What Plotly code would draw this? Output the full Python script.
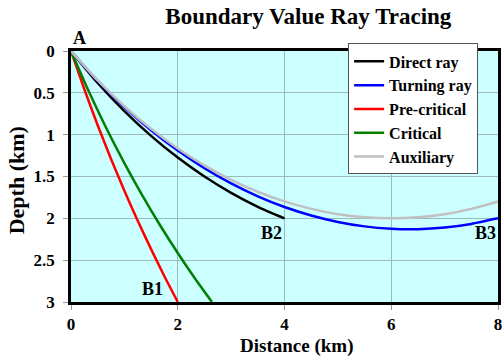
import plotly.graph_objects as go

# Ray paths: distance (km) vs depth (km)
direct_x = [0, 0.5, 1.0, 1.5, 2.0, 2.5, 3.0, 3.5, 4.0]
direct_z = [0, 0.382, 0.718, 1.014, 1.274, 1.500, 1.695, 1.862, 2.000]

turning_x = [0, 0.25, 0.5, 1.0, 1.5, 2.0, 2.5, 3.0, 3.5, 4.0, 4.5, 5.0, 5.5, 6.0, 6.5, 7.0, 7.5, 8.0]
turning_z = [0, 0.183, 0.356, 0.670, 0.947, 1.190, 1.401, 1.583, 1.737, 1.865, 1.966,
             2.043, 2.096, 2.124, 2.129, 2.110, 2.067, 2.000]

precrit_x = [0, 0.25, 0.5, 0.75, 1.0, 1.25, 1.5, 1.75, 2.0]
precrit_z = [0, 0.459, 0.888, 1.290, 1.670, 2.028, 2.368, 2.692, 3.000]

crit_x = [0, 0.33, 0.66, 1.0, 1.33, 1.66, 2.0, 2.33, 2.64]
crit_z = [0, 0.479, 0.920, 1.340, 1.720, 2.074, 2.415, 2.726, 3.000]

aux_x = [0, 0.5, 1.0, 1.5, 2.0, 2.5, 3.0, 3.5, 4.0, 4.5, 5.0, 5.5, 6.0, 6.5, 7.0, 7.5, 8.0]
aux_z = [0, 0.352, 0.660, 0.930, 1.165, 1.367, 1.539, 1.682, 1.798, 1.887, 1.950,
         1.987, 2.000, 1.987, 1.950, 1.887, 1.798]

series_names = ["Direct ray", "Turning ray", "Pre-critical", "Critical", "Auxiliary"]
series_colors = ["#000000", "#0000FF", "#FF0000", "#008000", "#C0C0C0"]
series_data = [(direct_x, direct_z), (turning_x, turning_z), (precrit_x, precrit_z),
               (crit_x, crit_z), (aux_x, aux_z)]

x_ticks = [0, 2, 4, 6, 8]
y_ticks = [0, 0.5, 1, 1.5, 2, 2.5, 3]

point_labels = ["A", "B1", "B2", "B3"]
point_label_pos = [(0, 0, 8, 13), (1.52, 2.85, 0, 0), (3.76, 2.18, 0, 0), (7.76, 2.18, 0, 0)]

FONT = "Liberation Serif"

fig = go.Figure()
for name, color, (xs, zs) in zip(series_names, series_colors, series_data):
    fig.add_trace(go.Scatter(
        x=xs, y=zs, name=name, mode="lines",
        line=dict(color=color, width=2.5, shape="spline", smoothing=0.6),
    ))

annotations = []
for text, (ax, ay, xs, ys) in zip(point_labels, point_label_pos):
    annotations.append(dict(
        x=ax, y=ay, xref="x", yref="y", text=f"<b>{text}</b>", showarrow=False,
        xanchor="center", yanchor="middle", xshift=xs, yshift=ys,
        font=dict(family=FONT, size=18, color="black"),
    ))

annotations.append(dict(
    x=0.528, y=0, xref="paper", yref="paper", yshift=-44,
    text="<b>Distance (km)</b>", showarrow=False, xanchor="center", yanchor="middle",
    font=dict(family=FONT, size=19, color="black"),
))
annotations.append(dict(
    x=-0.127, y=0.484, xref="paper", yref="paper", textangle=-90,
    text="<b>Depth (km)</b>", showarrow=False, xanchor="center", yanchor="middle",
    font=dict(family=FONT, size=22, color="black"),
))

axis_common = dict(
    showline=True, linecolor="black", linewidth=2.5, mirror=True,
    showgrid=True, gridcolor="#99bbbb", gridwidth=1, zeroline=False,
    ticks="outside", ticklen=5, tickcolor="#999999",
    tickfont=dict(family=FONT, size=17, color="black", weight="bold"),
)

fig.update_layout(
    width=503, height=361,
    margin=dict(l=71, r=2, t=51, b=59),
    paper_bgcolor="white", plot_bgcolor="#CCFFFF",
    title=dict(
        text="<b>Boundary Value Ray Tracing</b>", x=0.613, y=0.955,
        xref="container", yref="container", xanchor="center", yanchor="middle",
        font=dict(family=FONT, size=23, color="black"),
    ),
    xaxis=dict(range=[0, 8], tickvals=x_ticks, **axis_common),
    yaxis=dict(range=[3, 0], tickvals=y_ticks, ticklabelstandoff=5, **axis_common),
    legend=dict(
        x=0.649, y=1.03, xanchor="left", yanchor="top",
        bgcolor="white", bordercolor="#555555", borderwidth=1,
        font=dict(family=FONT, size=16, color="black", weight="bold"),
    ),
    showlegend=True,
    annotations=annotations,
)

fig.write_html("out.html")
